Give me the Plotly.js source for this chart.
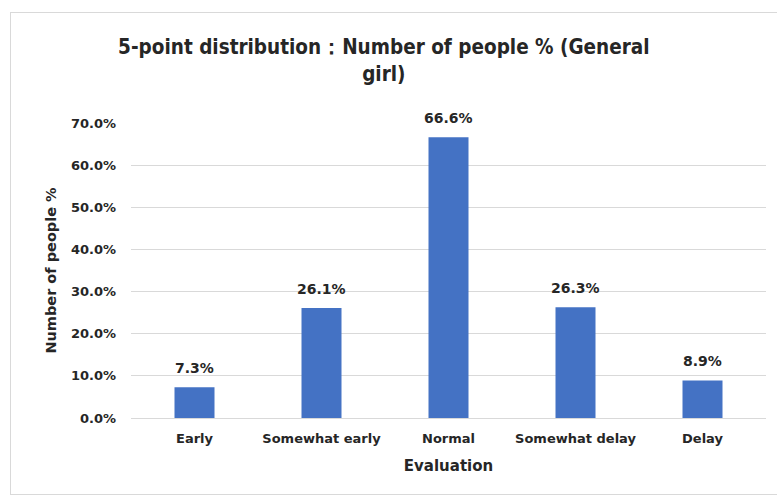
<!DOCTYPE html>
<html>
<head>
<meta charset="utf-8">
<script src="https://cdn.plot.ly/plotly-3.0.1.min.js"></script>
<style>
  html, body { margin: 0; padding: 0; background: #ffffff; }
  #wrap { position: relative; width: 777px; height: 498px; overflow: hidden; }
  #frame { position: absolute; left: 10px; top: 12px; width: 790px; height: 483px;
           border: 1px solid #d9d9d9; box-sizing: border-box; }
  #chart { position: absolute; left: 0; top: 0; width: 777px; height: 498px; }
</style>
</head>
<body>
<div id="wrap">
  <div id="frame"></div>
  <div id="chart"></div>
</div>
<script>
// Evaluation categories and share of people (%) in each
const categories = ["Early", "Somewhat early", "Normal", "Somewhat delay", "Delay"];
const peoplePct = [7.3, 26.1, 66.6, 26.3, 8.9];
const yTicks = [0, 10, 20, 30, 40, 50, 60, 70];

const FONT = "DejaVu Sans, Verdana, sans-serif";
const TITLE_FONT = "DejaVu Sans Condensed, DejaVu Sans, sans-serif";
const INK = "#262626";

const trace = {
  type: "bar",
  x: categories,
  y: peoplePct,
  marker: { color: "#4472c4" },
  hoverinfo: "x+y"
};

// value labels sitting above each bar
const valueLabels = categories.map((c, i) => ({
  x: c,
  y: peoplePct[i],
  xref: "x",
  yref: "y",
  text: peoplePct[i].toFixed(1) + "%",
  showarrow: false,
  yanchor: "bottom",
  yshift: 9,
  font: { family: FONT, size: 14, color: INK, weight: "bold" }
}));

const layout = {
  width: 777,
  height: 498,
  paper_bgcolor: "rgba(0,0,0,0)",
  plot_bgcolor: "rgba(0,0,0,0)",
  margin: { l: 131, r: 11, t: 123, b: 80 },
  bargap: 0.685,
  showlegend: false,
  annotations: valueLabels,
  title: {
    text: "5-point distribution：Number of people % (General<br>girl)",
    font: { family: TITLE_FONT, size: 20.5, color: INK, weight: "bold" },
    x: 0.494, xref: "container", xanchor: "center",
    y: 1 - 54 / 498, yref: "container", yanchor: "top"
  },
  xaxis: {
    type: "category",
    showgrid: false,
    showline: true,
    linecolor: "#d9d9d9",
    linewidth: 1,
    ticks: "",
    ticklabelstandoff: 8,
    tickfont: { family: FONT, size: 13, color: INK, weight: "bold" },
    title: {
      text: "Evaluation",
      font: { family: FONT, size: 15, color: INK, weight: "bold" },
      standoff: 15
    }
  },
  yaxis: {
    range: [0, 70],
    tickvals: yTicks,
    ticktext: yTicks.map(v => v.toFixed(1) + "%"),
    showgrid: true,
    gridcolor: "#d9d9d9",
    gridwidth: 1,
    zeroline: false,
    showline: false,
    ticks: "",
    ticklabelstandoff: 14,
    tickfont: { family: FONT, size: 13, color: INK, weight: "bold" },
    title: {
      text: "Number of people %",
      font: { family: FONT, size: 14.5, color: INK, weight: "bold" },
      standoff: 10
    }
  }
};

Plotly.newPlot("chart", [trace], layout, { displayModeBar: false, staticPlot: true });
</script>
</body>
</html>
